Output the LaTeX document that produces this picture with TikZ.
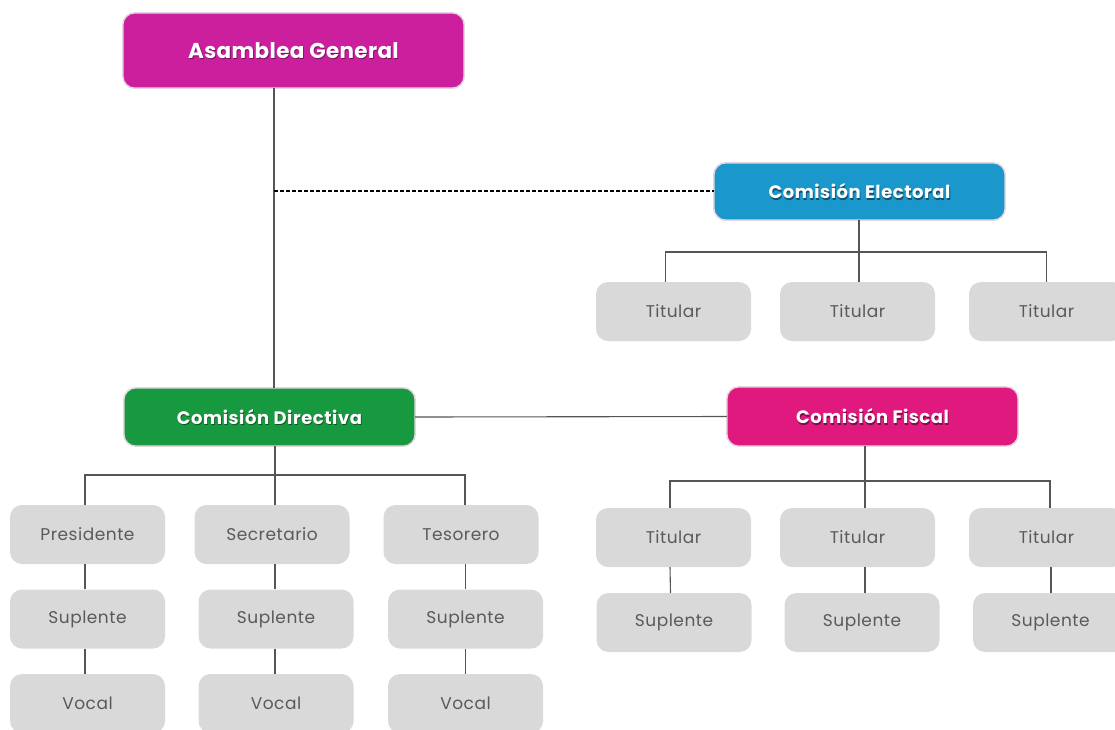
\documentclass[tikz,border=0pt]{standalone}
\usepackage{fontspec}
\setmainfont{Poppins}
\usetikzlibrary{calc}
\definecolor{asamblea}{HTML}{CC1F9E}
\definecolor{electoral}{HTML}{1A97CB}
\definecolor{directiva}{HTML}{17993F}
\definecolor{fiscal}{HTML}{E0197F}
\definecolor{boxgray}{HTML}{D9D9D9}
\definecolor{txtgray}{HTML}{5A5A5A}
\definecolor{linegray}{HTML}{555555}
\definecolor{edgecol}{HTML}{E3D6DF}
\pgfdeclarelayer{plates}
\pgfdeclarelayer{shade}
\pgfsetlayers{plates,shade,main}
\newcommand\headfont{\fontsize{18}{21}\selectfont\bfseries\addfontfeatures{LetterSpace=3}}
\newcommand\bigheadfont{\fontsize{21.5}{25}\selectfont\bfseries\addfontfeatures{LetterSpace=1.5}}
\newcommand\cellfont{\fontsize{17}{20}\selectfont\addfontfeatures{LetterSpace=3}}
% coloured plate behind a heading node, with a soft shadow under its label
\newcommand\plate[3]{%
  \begin{pgfonlayer}{plates}
    \draw[rounded corners=12, fill=#2, draw=edgecol, line width=1.5]
      (#1.north west) rectangle (#1.south east);
  \end{pgfonlayer}
  \begin{pgfonlayer}{shade}
    \node[text=black, text opacity=0.45, font=#3] at ([shift={(0.8,1.4)}]#1.center) {\csname lbl#1\endcsname};
  \end{pgfonlayer}}
\newcommand\lblag{Asamblea General}
\newcommand\lblce{Comisión Electoral}
\newcommand\lblcd{Comisión Directiva}
\newcommand\lblcf{Comisión Fiscal}
\tikzset{
  head/.style={text=white, inner sep=0, minimum width=291, minimum height=58},
  cell/.style={rounded corners=12, fill=boxgray, text=txtgray, font=\cellfont,
    inner sep=0, minimum width=155, minimum height=59},
  link/.style={draw=linegray, line width=1.1},
}
\begin{document}
\begin{tikzpicture}[x=1pt, y=-1pt]
\useasboundingbox (0,0) rectangle (1115,729);

% heading boxes
\node[head, font=\bigheadfont, minimum width=341, minimum height=75] (ag) at (293.5,50.5) {\lblag};
\node[head, font=\headfont, minimum height=57] (ce) at (859.5,191.5) {\lblce};
\node[head, font=\headfont] (cd) at (269.5,417) {\lblcd};
\node[head, font=\headfont, minimum height=59] (cf) at (872.5,416.5) {\lblcf};
\plate{ag}{asamblea}{\bigheadfont}
\plate{ce}{electoral}{\headfont}
\plate{cd}{directiva}{\headfont}
\plate{cf}{fiscal}{\headfont}

% Comisión Electoral members
\node[cell] (e1) at (673.5,311.5) {Titular};
\node[cell] (e2) at (857.5,311.5) {Titular};
\node[cell] (e3) at (1046.5,311.5) {Titular};

% Comisión Directiva members
\node[cell] (p)  at (87.5,534.5)  {Presidente};
\node[cell] (s)  at (272,534.5)   {Secretario};
\node[cell] (t)  at (461,534.5)   {Tesorero};
\node[cell] (ps) at (87.5,619)    {Suplente};
\node[cell] (ss) at (276,619)     {Suplente};
\node[cell] (ts) at (465.5,619)   {Suplente};
\node[cell] (pv) at (87.5,703.5)  {Vocal};
\node[cell] (sv) at (276,703.5)   {Vocal};
\node[cell] (tv) at (465.5,703.5) {Vocal};

% Comisión Fiscal members
\node[cell] (f1)  at (673.5,537.5)  {Titular};
\node[cell] (f2)  at (857.5,537.5)  {Titular};
\node[cell] (f3)  at (1046.5,537.5) {Titular};
\node[cell] (fs1) at (674,622.5)    {Suplente};
\node[cell] (fs2) at (862,622.5)    {Suplente};
\node[cell] (fs3) at (1050.5,622.5) {Suplente};

% bus points
\coordinate (trunk) at (274,191);
\coordinate (ebus) at (859,252);
\coordinate (dbus) at (275,475);
\coordinate (fbus) at (865,481);

% Asamblea trunk and its branches
\draw[link] (ag.south -| trunk) -- (cd.north -| trunk);
\draw[link, dashed, dash pattern=on 4pt off 2pt, draw=black] (trunk) -- (ce.west |- trunk);
\draw[link] (cd.east) -- (cf.west);

% Electoral tree
\draw[link] (ce.south -| ebus) -- (e2.north -| ebus);
\draw[link] ([xshift=-8]e1.north) -- ([xshift=-8]e1.north |- ebus) -| (e3.north);

% Directiva tree
\draw[link] (cd.south -| dbus) -- (s.north -| dbus);
\draw[link] ([xshift=-2.5]p.north) -- ([xshift=-2.5]p.north |- dbus) -| ([xshift=4]t.north);
\draw[link] ([xshift=-2.5]p.south) -- ([xshift=-2.5]ps.north);
\draw[link] ([xshift=-2.5]ps.south) -- ([xshift=-2.5]pv.north);
\draw[link] (s.south -| dbus) -- (ss.north -| dbus);
\draw[link] (ss.south -| dbus) -- (sv.north -| dbus);
\draw[link] (ts.north |- t.south) -- (ts.north);
\draw[link] (ts.south) -- (tv.north);

% Fiscal tree
\draw[link] (cf.south -| fbus) -- (f2.north -| fbus);
\draw[link] ([xshift=-3.5]f1.north) -- ([xshift=-3.5]f1.north |- fbus) -| ([xshift=3.5]f3.north);
\draw[link] ([xshift=-3.5]f1.south) -- ([xshift=-3.5]fs1.north);
\draw[link] (f2.south -| fbus) -- (fs2.north -| fbus);
\draw[link] ([xshift=4.5]f3.south) -- ([xshift=0.5]fs3.north);
\end{tikzpicture}
\end{document}
